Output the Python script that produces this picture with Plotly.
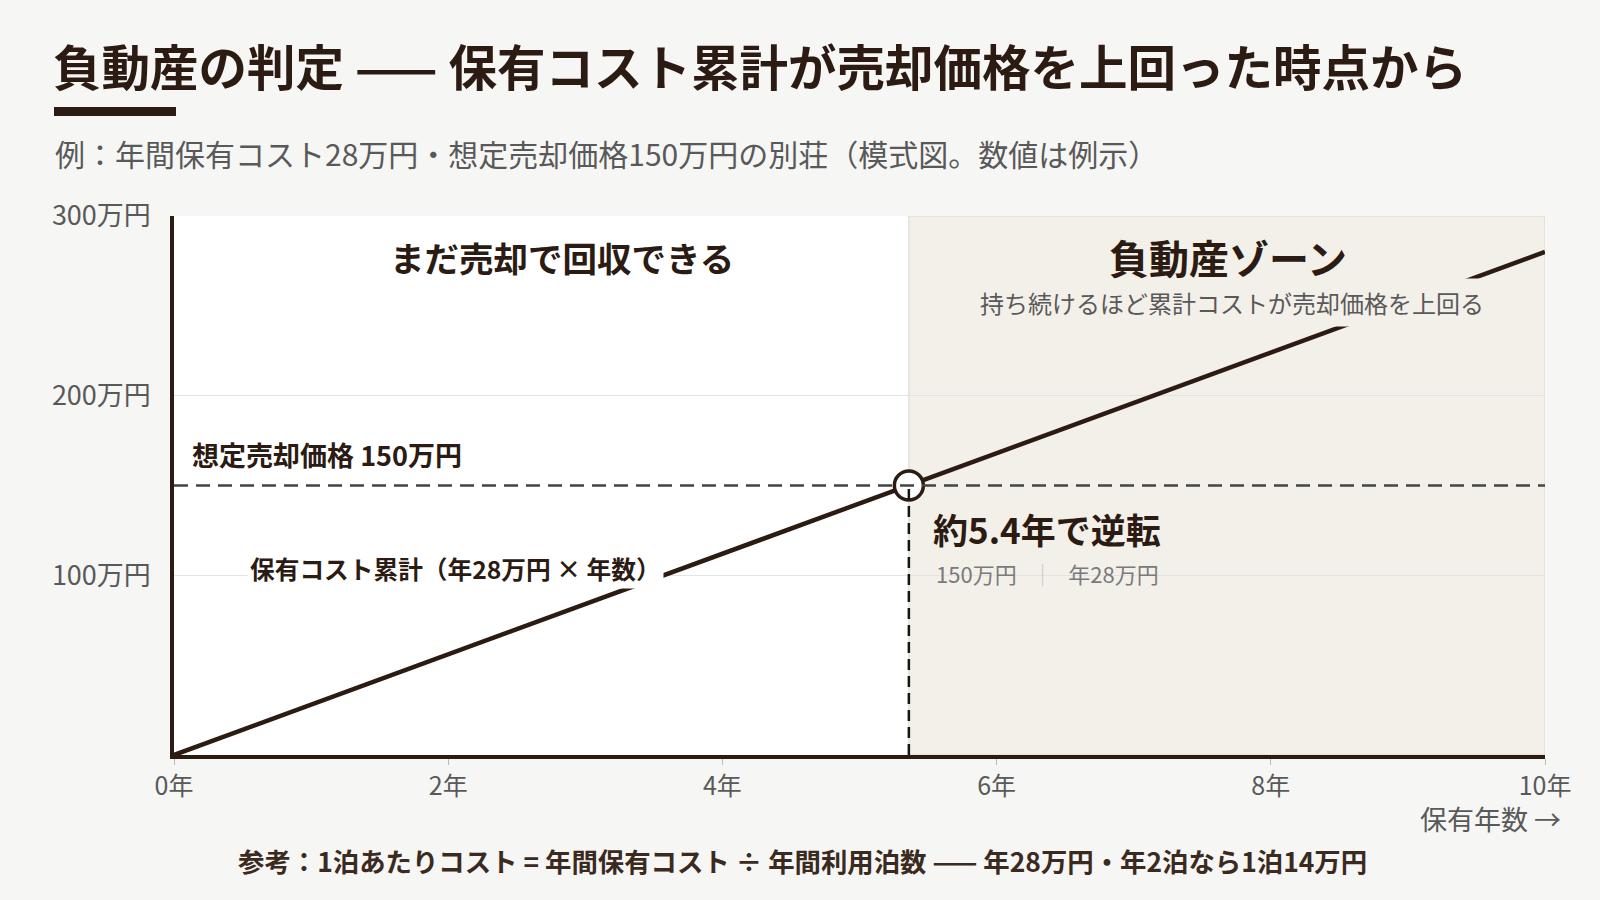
import plotly.graph_objects as go

# ---- data ----
years = [0, 5.36, 10]
cumulative_cost = [0, 150, 280]          # 万円
sale_price = 150                          # 万円
breakeven_year = 5.36
x_max = 10
y_max = 300
x_ticks = [0, 2, 4, 6, 8, 10]
x_tick_labels = ["0年", "2年", "4年", "6年", "8年", "10年"]
y_ticks = [100, 200, 300]
y_tick_labels = ["100万円", "200万円", "300万円"]

FONT = "Noto Sans CJK JP"
DARK = "#2b1b13"
GRAY = "#595959"
PAGE_BG = "#f6f6f5"
ZONE_BG = "#f3f0e9"

L, R, T, B = 174, 1545, 216, 755
W, H = R - L, B - T


def px(x):
    return (x - L) / W


def py(y):
    return (B - y) / H


fig = go.Figure()

# negative zone background
fig.add_shape(type="rect", xref="x", yref="y", x0=breakeven_year, x1=x_max, y0=0, y1=y_max,
              fillcolor=ZONE_BG, line=dict(color="#d9d6cf", width=1), layer="below")

# sale price line
fig.add_shape(type="line", xref="x", yref="y", x0=0, x1=x_max, y0=sale_price, y1=sale_price,
              line=dict(color="#444444", width=2.5, dash="14px,8px"), layer="above")
# breakeven vertical
fig.add_shape(type="line", xref="x", yref="y", x0=breakeven_year, x1=breakeven_year, y0=0, y1=sale_price,
              line=dict(color="#151515", width=2.5, dash="11px,6px"), layer="above")

fig.add_trace(go.Scatter(x=[0, x_max], y=[cumulative_cost[0], cumulative_cost[-1]], mode="lines",
                         line=dict(color=DARK, width=4.5), hoverinfo="skip", showlegend=False))
fig.add_trace(go.Scatter(x=[breakeven_year], y=[sale_price], mode="markers",
                         marker=dict(symbol="circle", size=29, color="white",
                                     line=dict(color=DARK, width=3.5)),
                         hoverinfo="skip", showlegend=False))

ann = []
ann.append(dict(x=2.83, y=277, xref="x", yref="y", text="<b>まだ売却で回収できる</b>",
                showarrow=False, font=dict(size=34.5, color=DARK), xanchor="center", yanchor="middle"))
ann.append(dict(x=7.69, y=277, xref="x", yref="y", text="<b>負動産ゾーン</b>",
                showarrow=False, font=dict(size=40, color=DARK), xanchor="center", yanchor="middle",
                bgcolor=ZONE_BG))
ann.append(dict(x=7.72, y=252, xref="x", yref="y", text="持ち続けるほど累計コストが売却価格を上回る",
                showarrow=False, font=dict(size=24, color=GRAY), xanchor="center", yanchor="middle",
                bgcolor=ZONE_BG, borderpad=6))
ann.append(dict(x=0.12, y=167, xref="x", yref="y", text="<b>想定売却価格 150万円</b>",
                showarrow=False, font=dict(size=27, color=DARK), xanchor="left", yanchor="middle"))
ann.append(dict(x=0.53, y=104, xref="x", yref="y", text="<b>保有コスト累計（年28万円 × 年数）</b>",
                showarrow=False, font=dict(size=24.7, color=DARK), xanchor="left", yanchor="middle",
                bgcolor="white", borderpad=2))
ann.append(dict(x=5.52, y=126, xref="x", yref="y", text="<b>約5.4年で逆転</b>",
                showarrow=False, font=dict(size=35, color=DARK), xanchor="left", yanchor="middle"))
ann.append(dict(x=5.54, y=101.5, xref="x", yref="y",
                text="150万円   <span style='color:#c8c8c8'>｜</span>   年28万円",
                showarrow=False, font=dict(size=22, color="#7a7a7a"), xanchor="left", yanchor="middle"))
# axis caption
ann.append(dict(x=px(1563), y=py(818), xref="paper", yref="paper", text="保有年数 →",
                showarrow=False, font=dict(size=27, color=GRAY), xanchor="right", yanchor="middle"))
# subtitle
ann.append(dict(x=px(53), y=py(153), xref="paper", yref="paper",
                text="例：年間保有コスト28万円・想定売却価格150万円の別荘（模式図。数値は例示）",
                showarrow=False, font=dict(size=30, color=GRAY), xanchor="left", yanchor="middle"))
# bottom note
ann.append(dict(x=px(802), y=py(860), xref="paper", yref="paper",
                text="<b>参考：1泊あたりコスト = 年間保有コスト ÷ 年間利用泊数 —— 年28万円・年2泊なら1泊14万円</b>",
                showarrow=False, font=dict(size=26.4, color="#3a2a20"), xanchor="center", yanchor="middle"))

# title underline bar
fig.add_shape(type="rect", xref="paper", yref="paper", x0=px(54), x1=px(176), y0=py(116), y1=py(107),
              fillcolor=DARK, line=dict(width=0))

fig.update_layout(
    width=1600, height=900,
    paper_bgcolor=PAGE_BG, plot_bgcolor="white",
    margin=dict(l=L, r=1600 - R, t=T, b=900 - B),
    font=dict(family=FONT, color=GRAY),
    title=dict(text="<b>負動産の判定 —— 保有コスト累計が売却価格を上回った時点から</b>",
               x=53 / 1600, y=1 - 69 / 900, xref="container", yref="container",
               xanchor="left", yanchor="middle", font=dict(size=48.5, color=DARK, family=FONT)),
    annotations=ann,
    showlegend=False,
)
fig.update_xaxes(range=[0, x_max], tickvals=x_ticks, ticktext=x_tick_labels,
                 showgrid=False, zeroline=False, showline=True, linecolor=DARK, linewidth=3.5,
                 ticks="outside", ticklen=6, tickcolor="#bbbbbb", tickwidth=1,
                 tickfont=dict(size=25, color=GRAY), fixedrange=True)
fig.update_yaxes(range=[0, y_max], tickvals=y_ticks, ticktext=y_tick_labels,
                 showgrid=True, gridcolor="#e3e3e3", gridwidth=1, zeroline=False,
                 showline=True, linecolor=DARK, linewidth=3.5, ticks="", ticklabelstandoff=14,
                 tickfont=dict(size=27, color=GRAY), fixedrange=True)

fig.write_html(
    "out.html",
    config={"displayModeBar": False},
    post_script="document.body.style.margin='0';document.body.style.background='%s';" % PAGE_BG,
)
